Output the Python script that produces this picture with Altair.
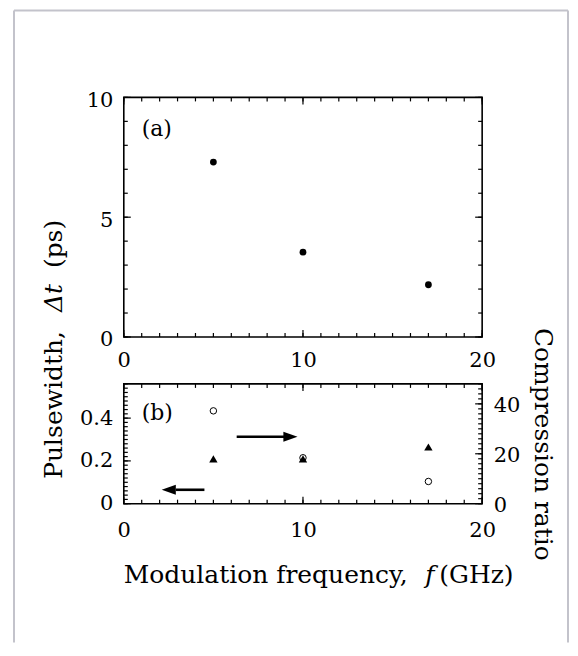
import altair as alt
import pandas as pd

# ---------------- data ----------------
freq = [5, 10, 17]
pulsewidth = [7.3, 3.54, 2.18]          # panel (a), ps
tbp = [0.21, 0.21, 0.265]                # panel (b), left axis (filled triangles)
ratio = [37.2, 18.4, 8.9]                # panel (b), right axis (open circles)

x_major = [0, 10, 20]
x_minor = list(range(0, 21))
ya_major = [0, 5, 10]
ya_minor = list(range(0, 11))
yl_major = [0, 0.2, 0.4]
yl_minor = [round(0.02 * i, 2) for i in range(0, 29)]
yr_major = [0, 20, 40]
yr_minor = list(range(0, 49, 2))

FONT = "DejaVu Serif"
TS = 25  # title font size
W, HA, HB = 359, 240, 120
MAJ, MIN = 7, 4

xscale = alt.Scale(domain=[0, 20], nice=False, zero=False)
ya_scale = alt.Scale(domain=[0, 10], nice=False, zero=False)
yl_scale = alt.Scale(domain=[0, 0.56], nice=False, zero=False)
yr_scale = alt.Scale(domain=[0, 48], nice=False, zero=False)

xa_axis = alt.Axis(values=x_major, title=None, labelPadding=13, format="d", labelFlush=False)
ya_axis = alt.Axis(values=ya_major, title=None, labelPadding=11, labelOffset=3, format="d",
                   labelFlush=False)
xb_axis = alt.Axis(values=x_major, title=None, labelPadding=16, format="d", labelFlush=False)
yl_axis = alt.Axis(values=yl_major, title=None, labelPadding=11, orient="left", labelFlush=False,
                   labelExpr="datum.value == 0 ? '0' : format(datum.value, '.1f')")
yr_axis = alt.Axis(values=yr_major, title=None, labelPadding=11, orient="right", format="d",
                   labelFlush=False, labelOffset=2)


def one(text=""):
    return pd.DataFrame({"t": [text]})


def xticks(H, xaxis):
    out = []
    for vals, ln in ((x_minor, MIN), (x_major, MAJ)):
        df = pd.DataFrame({"v": vals})
        base = alt.Chart(df).mark_rule(color="black", strokeWidth=1.2)
        out.append(base.encode(x=alt.X("v:Q", scale=xscale, axis=xaxis),
                               y=alt.value(H), y2=alt.value(H - ln)))
        out.append(base.encode(x=alt.X("v:Q", scale=xscale, axis=xaxis),
                               y=alt.value(0), y2=alt.value(ln)))
    return out


def yticks(minor, major, scale, yaxis, side):
    out = []
    for vals, ln in ((minor, MIN), (major, MAJ)):
        df = pd.DataFrame({"v": vals})
        base = alt.Chart(df).mark_rule(color="black", strokeWidth=1.2)
        if side in ("left", "both"):
            out.append(base.encode(y=alt.Y("v:Q", scale=scale, axis=yaxis),
                                   x=alt.value(0), x2=alt.value(ln)))
        if side in ("right", "both"):
            out.append(base.encode(y=alt.Y("v:Q", scale=scale, axis=yaxis),
                                   x=alt.value(W), x2=alt.value(W - ln)))
    return out


def txt(text, x, y, size=TS, italic=False, angle=0, align="left", baseline="alphabetic"):
    kw = dict(font=FONT, fontSize=size, color="black", align=align, baseline=baseline)
    if italic:
        kw["fontStyle"] = "italic"
    if angle:
        kw["angle"] = angle
    return alt.Chart(one(text)).mark_text(**kw).encode(text="t:N", x=x, y=y)


# ---------------- panel (a) ----------------
df_a = pd.DataFrame({"f": freq, "pw": pulsewidth})

pts_a = alt.Chart(df_a).mark_circle(size=46, color="black", opacity=1).encode(
    x=alt.X("f:Q", scale=xscale, axis=xa_axis),
    y=alt.Y("pw:Q", scale=ya_scale, axis=ya_axis),
)

lab_a = alt.Chart(pd.DataFrame({"x": [1.0], "y": [8.7], "t": ["(a)"]})).mark_text(
    font=FONT, fontSize=22, align="left", baseline="middle", color="black"
).encode(x=alt.X("x:Q", scale=xscale, axis=xa_axis),
         y=alt.Y("y:Q", scale=ya_scale, axis=ya_axis), text="t:N")

# outer light frame (left, top, right lines)
FR = dict(color="#c3c3cb", strokeWidth=2)
FL, FRX, FT, FB = -110, 445, -87, 546
frame = [
    alt.Chart(one()).mark_rule(**FR).encode(x=alt.value(FL), y=alt.value(FT), y2=alt.value(FB)),
    alt.Chart(one()).mark_rule(**FR).encode(x=alt.value(FRX), y=alt.value(FT), y2=alt.value(FB)),
    alt.Chart(one()).mark_rule(**FR).encode(x=alt.value(FL), x2=alt.value(FRX), y=alt.value(FT)),
]

# y title (rotated), spanning both panels
ytitle = [
    txt("Pulsewidth,", alt.value(-62), alt.value(382), angle=270),
    txt("\u0394t", alt.value(-62), alt.value(215), italic=True, angle=270),
    txt("(ps)", alt.value(-62), alt.value(171), angle=270),
]

panel_a = alt.layer(
    *frame, *xticks(HA, xa_axis), *yticks(ya_minor, ya_major, ya_scale, ya_axis, "both"),
    pts_a, lab_a, *ytitle
).properties(width=W, height=HA)

# ---------------- panel (b) ----------------
df_b = pd.DataFrame({"f": freq, "tbp": tbp, "ratio": ratio})

tri = alt.Chart(df_b).mark_point(shape="triangle-up", filled=True, size=70, color="black", opacity=1).encode(
    x=alt.X("f:Q", scale=xscale, axis=xb_axis),
    y=alt.Y("tbp:Q", scale=yl_scale, axis=yl_axis),
)

# arrows (indicating which axis each series belongs to)
arrow_l = pd.DataFrame({"x1": [4.5], "x2": [2.9], "xh": [2.51], "y": [0.065]})
arrow_r = pd.DataFrame({"x1": [6.3], "x2": [9.0], "xh": [9.3], "y": [0.313]})
HEAD_L = "M -1 0 L 1 -0.7 L 1 0.7 Z"
HEAD_R = "M 1 0 L -1 -0.7 L -1 0.7 Z"
arrows = []
for df, head in ((arrow_l, HEAD_L), (arrow_r, HEAD_R)):
    arrows.append(alt.Chart(df).mark_rule(color="black", strokeWidth=2.6).encode(
        x=alt.X("x1:Q", scale=xscale, axis=xb_axis), x2="x2:Q",
        y=alt.Y("y:Q", scale=yl_scale, axis=yl_axis)))
    arrows.append(alt.Chart(df).mark_point(shape=head, filled=True, size=200, color="black",
                                           opacity=1, strokeWidth=0).encode(
        x=alt.X("xh:Q", scale=xscale, axis=xb_axis),
        y=alt.Y("y:Q", scale=yl_scale, axis=yl_axis)))

lab_b = alt.Chart(pd.DataFrame({"x": [1.0], "y": [0.425], "t": ["(b)"]})).mark_text(
    font=FONT, fontSize=22, align="left", baseline="middle", color="black"
).encode(x=alt.X("x:Q", scale=xscale, axis=xb_axis),
         y=alt.Y("y:Q", scale=yl_scale, axis=yl_axis), text="t:N")

xtitle = [
    txt("Modulation frequency,", alt.value(0), alt.value(199)),
    txt("f", alt.value(302), alt.value(199), italic=True),
    txt("(GHz)", alt.value(316), alt.value(199)),
]
rtitle = txt("Compression ratio", alt.value(412), alt.value(-56), angle=90)

left_layer = alt.layer(
    *xticks(HB, xb_axis), *yticks(yl_minor, yl_major, yl_scale, yl_axis, "left"),
    tri, *arrows, lab_b, *xtitle, rtitle
)

circ = alt.Chart(df_b).mark_point(shape="circle", filled=False, size=42, color="black",
                                  strokeWidth=1, opacity=1).encode(
    x=alt.X("f:Q", scale=xscale, axis=xb_axis),
    y=alt.Y("ratio:Q", scale=yr_scale, axis=yr_axis),
)
right_layer = alt.layer(*yticks(yr_minor, yr_major, yr_scale, yr_axis, "right"), circ)

panel_b = alt.layer(left_layer, right_layer).resolve_scale(y="independent").resolve_axis(
    y="independent").properties(width=W, height=HB)

chart = alt.vconcat(panel_a, panel_b, spacing=47, bounds="flush").properties(
    padding={"left": 4, "top": 0, "right": 0, "bottom": 0},
    background="white",
).configure_view(stroke="black", strokeWidth=1.6).configure_axis(
    labelFont=FONT, labelFontSize=21, labelColor="black", domain=False, ticks=False,
    tickSize=0, grid=False, labelOverlap=False,
)

chart.save("out.html", embed_options={"renderer": "svg", "actions": False})
